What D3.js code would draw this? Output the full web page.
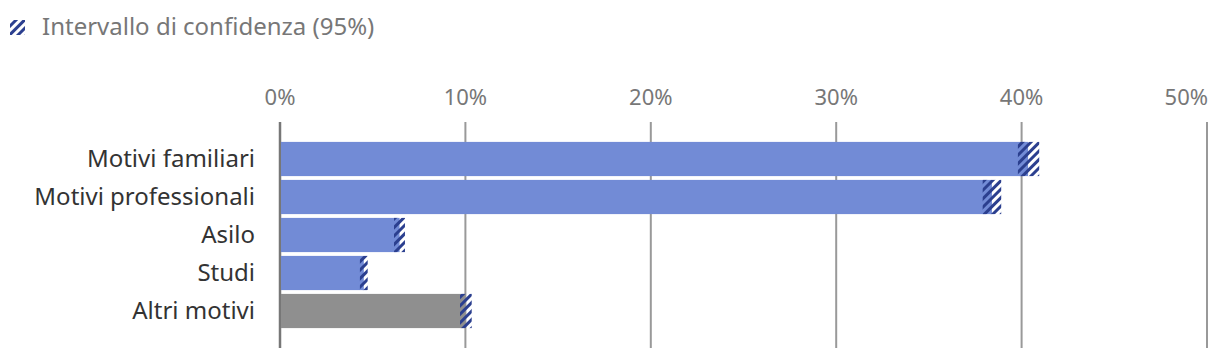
<!DOCTYPE html>
<html>
<head>
<meta charset="utf-8">
<script src="https://cdn.jsdelivr.net/npm/d3@7.9.0/dist/d3.min.js"></script>
<style>
  body { margin: 0; background: #fff; }
  text { font-family: "Noto Sans", sans-serif; }
</style>
</head>
<body>
<svg id="chart" width="1220" height="360"></svg>
<script>
// Data
const categories = ["Motivi familiari", "Motivi professionali", "Asilo", "Studi", "Altri motivi"];
const values = [40.35, 38.4, 6.45, 4.52, 10.0];
const lower = [39.8, 37.9, 6.15, 4.31, 9.71];
const upper = [40.95, 38.9, 6.74, 4.73, 10.34];
const highlight = [true, true, true, true, false];
const ticks = [0, 10, 20, 30, 40, 50];
const legendLabel = "Intervallo di confidenza (95%)";

const svg = d3.select("#chart");

// Hatch pattern for the confidence interval
const defs = svg.append("defs");
const pattern = defs.append("pattern")
  .attr("id", "hatch")
  .attr("patternUnits", "userSpaceOnUse")
  .attr("width", 6)
  .attr("height", 6)
  .attr("patternTransform", "rotate(45)");
pattern.append("rect")
  .attr("width", 3)
  .attr("height", 6)
  .attr("fill", "#2b3f8f");

// Scales
const x = d3.scaleLinear().domain([0, 50]).range([280, 1207]);
const y = d3.scaleBand()
  .domain(categories)
  .range([140, 330])
  .paddingInner(0.1)
  .paddingOuter(0.05);

// Gridlines
svg.append("g")
  .selectAll("line")
  .data(ticks)
  .join("line")
  .attr("x1", d => x(d))
  .attr("x2", d => x(d))
  .attr("y1", 122)
  .attr("y2", 348)
  .attr("stroke", d => d === 0 ? "#777" : "#999")
  .attr("stroke-width", d => d === 0 ? 2.5 : 2);

// Top axis labels (last one kept inside the frame)
svg.append("g")
  .selectAll("text")
  .data(ticks)
  .join("text")
  .attr("x", (d, i) => i === ticks.length - 1 ? x(d) + 1 : x(d))
  .attr("y", 105)
  .attr("text-anchor", (d, i) => i === ticks.length - 1 ? "end" : "middle")
  .attr("font-size", 22)
  .attr("fill", "#777")
  .text(d => d + "%");

// Bars
svg.append("g")
  .selectAll("rect")
  .data(categories)
  .join("rect")
  .attr("x", x(0) + 1)
  .attr("y", d => y(d))
  .attr("width", (d, i) => x(values[i]) - x(0) - 1)
  .attr("height", y.bandwidth())
  .attr("fill", (d, i) => highlight[i] ? "#728bd6" : "#8f8f8f");

// Confidence intervals
svg.append("g")
  .selectAll("rect")
  .data(categories)
  .join("rect")
  .attr("x", (d, i) => x(lower[i]))
  .attr("y", d => y(d))
  .attr("width", (d, i) => x(upper[i]) - x(lower[i]))
  .attr("height", y.bandwidth())
  .attr("fill", "url(#hatch)");

// Category labels
svg.append("g")
  .selectAll("text")
  .data(categories)
  .join("text")
  .attr("x", 255)
  .attr("y", d => y(d) + y.bandwidth() / 2)
  .attr("dy", "0.35em")
  .attr("text-anchor", "end")
  .attr("font-size", 24)
  .attr("fill", "#333")
  .text(d => d);

// Legend
const legend = svg.append("g");
legend.append("rect")
  .attr("x", 10)
  .attr("y", 20)
  .attr("width", 15)
  .attr("height", 15)
  .attr("fill", "url(#hatch)");
legend.append("text")
  .attr("x", 42)
  .attr("y", 35)
  .attr("font-size", 24)
  .attr("fill", "#777")
  .text(legendLabel);
</script>
</body>
</html>
